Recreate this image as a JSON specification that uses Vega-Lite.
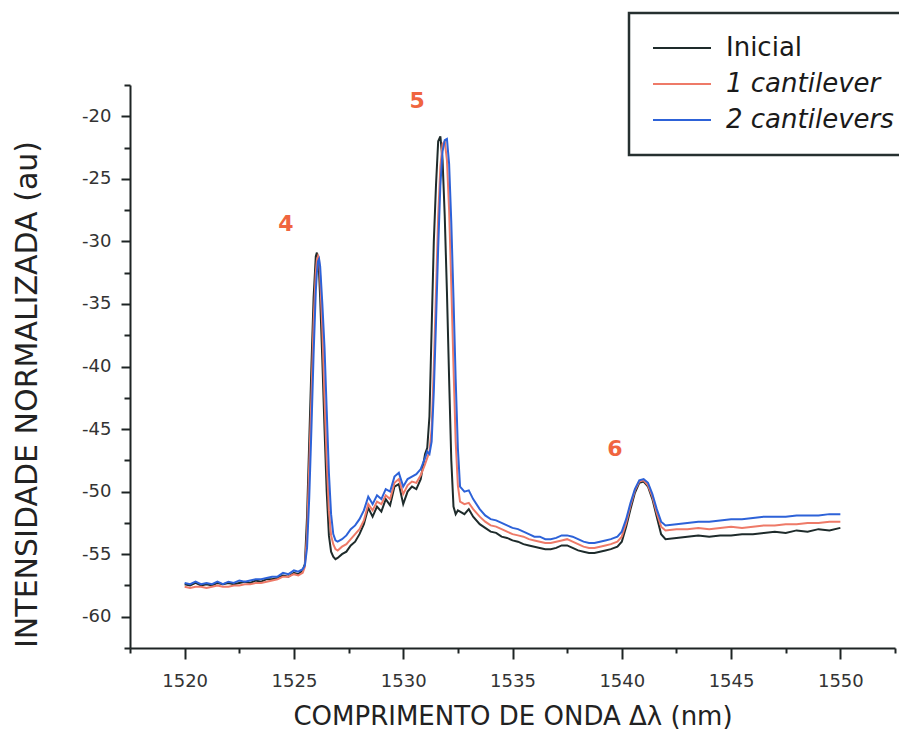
{
  "$schema": "https://vega.github.io/schema/vega-lite/v6.json",
  "autosize": {"type": "none"},
  "width": 765,
  "height": 563,
  "padding": {"left": 130, "top": 85, "right": 4, "bottom": 85},
  "background": "white",
  "config": {
    "view": {"stroke": null},
    "font": "DejaVu Sans",
    "legend": {"strokeWidth": 2.5}
  },
  "datasets": {
    "spectra": [
      {"x": 1520.0, "Inicial": -57.4, "1 cantilever": -57.6, "2 cantilevers": -57.3},
      {"x": 1520.25, "Inicial": -57.5, "1 cantilever": -57.7, "2 cantilevers": -57.4},
      {"x": 1520.5, "Inicial": -57.3, "1 cantilever": -57.6, "2 cantilevers": -57.2},
      {"x": 1520.75, "Inicial": -57.5, "1 cantilever": -57.6, "2 cantilevers": -57.4},
      {"x": 1521.0, "Inicial": -57.4, "1 cantilever": -57.7, "2 cantilevers": -57.3},
      {"x": 1521.25, "Inicial": -57.5, "1 cantilever": -57.6, "2 cantilevers": -57.4},
      {"x": 1521.5, "Inicial": -57.3, "1 cantilever": -57.5, "2 cantilevers": -57.2},
      {"x": 1521.75, "Inicial": -57.4, "1 cantilever": -57.6, "2 cantilevers": -57.4},
      {"x": 1522.0, "Inicial": -57.3, "1 cantilever": -57.6, "2 cantilevers": -57.2},
      {"x": 1522.25, "Inicial": -57.4, "1 cantilever": -57.5, "2 cantilevers": -57.3},
      {"x": 1522.5, "Inicial": -57.3, "1 cantilever": -57.5, "2 cantilevers": -57.1},
      {"x": 1522.75, "Inicial": -57.2, "1 cantilever": -57.4, "2 cantilevers": -57.2},
      {"x": 1523.0, "Inicial": -57.3, "1 cantilever": -57.4, "2 cantilevers": -57.1},
      {"x": 1523.25, "Inicial": -57.1, "1 cantilever": -57.3, "2 cantilevers": -57.0},
      {"x": 1523.5, "Inicial": -57.2, "1 cantilever": -57.3, "2 cantilevers": -57.0},
      {"x": 1523.75, "Inicial": -57.0, "1 cantilever": -57.2, "2 cantilevers": -56.9},
      {"x": 1524.0, "Inicial": -57.0, "1 cantilever": -57.1, "2 cantilevers": -56.8},
      {"x": 1524.25, "Inicial": -56.9, "1 cantilever": -57.0, "2 cantilevers": -56.8},
      {"x": 1524.5, "Inicial": -56.7, "1 cantilever": -56.8, "2 cantilevers": -56.5},
      {"x": 1524.75, "Inicial": -56.8, "1 cantilever": -56.8, "2 cantilevers": -56.6},
      {"x": 1525.0, "Inicial": -56.5, "1 cantilever": -56.6, "2 cantilevers": -56.3},
      {"x": 1525.2, "Inicial": -56.6, "1 cantilever": -56.7, "2 cantilevers": -56.4},
      {"x": 1525.4, "Inicial": -56.3, "1 cantilever": -56.5, "2 cantilevers": -56.2},
      {"x": 1525.5, "Inicial": -55.8, "1 cantilever": -56.0, "2 cantilevers": -55.9},
      {"x": 1525.6, "Inicial": -52.0, "1 cantilever": -53.5, "2 cantilevers": -54.5},
      {"x": 1525.7, "Inicial": -46.0, "1 cantilever": -48.0, "2 cantilevers": -50.5},
      {"x": 1525.8, "Inicial": -40.0, "1 cantilever": -42.5, "2 cantilevers": -45.0},
      {"x": 1525.9, "Inicial": -34.5, "1 cantilever": -36.5, "2 cantilevers": -39.0},
      {"x": 1526.0, "Inicial": -31.2, "1 cantilever": -32.5, "2 cantilevers": -34.0},
      {"x": 1526.05, "Inicial": -30.9, "1 cantilever": -31.5, "2 cantilevers": -32.5},
      {"x": 1526.1, "Inicial": -31.3, "1 cantilever": -31.2, "2 cantilevers": -31.6},
      {"x": 1526.15, "Inicial": -32.5, "1 cantilever": -31.5, "2 cantilevers": -31.4},
      {"x": 1526.2, "Inicial": -34.5, "1 cantilever": -32.8, "2 cantilevers": -32.0},
      {"x": 1526.3, "Inicial": -39.5, "1 cantilever": -37.0, "2 cantilevers": -35.0},
      {"x": 1526.4, "Inicial": -45.0, "1 cantilever": -42.5, "2 cantilevers": -38.5},
      {"x": 1526.5, "Inicial": -50.0, "1 cantilever": -47.5, "2 cantilevers": -43.5},
      {"x": 1526.6, "Inicial": -53.5, "1 cantilever": -51.5, "2 cantilevers": -48.5},
      {"x": 1526.7, "Inicial": -54.8, "1 cantilever": -53.5, "2 cantilevers": -51.8},
      {"x": 1526.8, "Inicial": -55.2, "1 cantilever": -54.2, "2 cantilevers": -53.4},
      {"x": 1526.9, "Inicial": -55.4, "1 cantilever": -54.6, "2 cantilevers": -53.9},
      {"x": 1527.0, "Inicial": -55.3, "1 cantilever": -54.7, "2 cantilevers": -54.0},
      {"x": 1527.2, "Inicial": -55.0, "1 cantilever": -54.4, "2 cantilevers": -53.8},
      {"x": 1527.4, "Inicial": -54.8, "1 cantilever": -54.2, "2 cantilevers": -53.5},
      {"x": 1527.6, "Inicial": -54.3, "1 cantilever": -53.8, "2 cantilevers": -53.0},
      {"x": 1527.8, "Inicial": -54.0, "1 cantilever": -53.4, "2 cantilevers": -52.7},
      {"x": 1528.0, "Inicial": -53.4, "1 cantilever": -53.0, "2 cantilevers": -52.2},
      {"x": 1528.2, "Inicial": -52.6, "1 cantilever": -52.3, "2 cantilevers": -51.5},
      {"x": 1528.4, "Inicial": -51.3, "1 cantilever": -51.0, "2 cantilevers": -50.4},
      {"x": 1528.6, "Inicial": -52.0, "1 cantilever": -51.5, "2 cantilevers": -51.0},
      {"x": 1528.8, "Inicial": -51.2, "1 cantilever": -50.8, "2 cantilevers": -50.3},
      {"x": 1529.0, "Inicial": -51.6, "1 cantilever": -51.0, "2 cantilevers": -50.6},
      {"x": 1529.2, "Inicial": -50.6, "1 cantilever": -50.3, "2 cantilevers": -49.8},
      {"x": 1529.4, "Inicial": -51.1, "1 cantilever": -50.6, "2 cantilevers": -50.0},
      {"x": 1529.6, "Inicial": -49.6, "1 cantilever": -49.3, "2 cantilevers": -48.8},
      {"x": 1529.8, "Inicial": -49.4, "1 cantilever": -49.0, "2 cantilevers": -48.5},
      {"x": 1530.0, "Inicial": -51.0, "1 cantilever": -50.2, "2 cantilevers": -49.6},
      {"x": 1530.2, "Inicial": -50.0, "1 cantilever": -49.5, "2 cantilevers": -49.0},
      {"x": 1530.4, "Inicial": -49.6, "1 cantilever": -49.2, "2 cantilevers": -48.8},
      {"x": 1530.6, "Inicial": -49.8, "1 cantilever": -49.3, "2 cantilevers": -48.6},
      {"x": 1530.8, "Inicial": -49.0, "1 cantilever": -48.7, "2 cantilevers": -48.2},
      {"x": 1531.0, "Inicial": -47.0, "1 cantilever": -47.8, "2 cantilevers": -47.3},
      {"x": 1531.1, "Inicial": -46.5, "1 cantilever": -47.3, "2 cantilevers": -46.8},
      {"x": 1531.2, "Inicial": -44.0, "1 cantilever": -46.8, "2 cantilevers": -47.0},
      {"x": 1531.3, "Inicial": -37.0, "1 cantilever": -45.0, "2 cantilevers": -46.0},
      {"x": 1531.4, "Inicial": -30.0, "1 cantilever": -40.0, "2 cantilevers": -42.0},
      {"x": 1531.5, "Inicial": -25.5, "1 cantilever": -34.0, "2 cantilevers": -36.5},
      {"x": 1531.6, "Inicial": -22.0, "1 cantilever": -28.0, "2 cantilevers": -30.5},
      {"x": 1531.7, "Inicial": -21.6, "1 cantilever": -24.0, "2 cantilevers": -25.5},
      {"x": 1531.8, "Inicial": -23.5, "1 cantilever": -22.2, "2 cantilevers": -22.8},
      {"x": 1531.9, "Inicial": -28.0, "1 cantilever": -22.0, "2 cantilevers": -21.9},
      {"x": 1532.0, "Inicial": -34.0, "1 cantilever": -23.5, "2 cantilevers": -21.8},
      {"x": 1532.1, "Inicial": -41.0, "1 cantilever": -27.5, "2 cantilevers": -23.8},
      {"x": 1532.2, "Inicial": -47.5, "1 cantilever": -33.5, "2 cantilevers": -28.5},
      {"x": 1532.3, "Inicial": -51.2, "1 cantilever": -40.0, "2 cantilevers": -34.5},
      {"x": 1532.4, "Inicial": -51.8, "1 cantilever": -46.0, "2 cantilevers": -41.0},
      {"x": 1532.5, "Inicial": -51.5, "1 cantilever": -49.5, "2 cantilevers": -46.5},
      {"x": 1532.6, "Inicial": -51.6, "1 cantilever": -50.8, "2 cantilevers": -49.6},
      {"x": 1532.8, "Inicial": -51.8, "1 cantilever": -51.0, "2 cantilevers": -50.0},
      {"x": 1533.0, "Inicial": -51.4, "1 cantilever": -50.9, "2 cantilevers": -49.9},
      {"x": 1533.2, "Inicial": -52.0, "1 cantilever": -51.4, "2 cantilevers": -50.6},
      {"x": 1533.5, "Inicial": -52.6, "1 cantilever": -52.0, "2 cantilevers": -51.4},
      {"x": 1533.75, "Inicial": -52.9, "1 cantilever": -52.4, "2 cantilevers": -51.9},
      {"x": 1534.0, "Inicial": -53.2, "1 cantilever": -52.7, "2 cantilevers": -52.2},
      {"x": 1534.25, "Inicial": -53.3, "1 cantilever": -52.8, "2 cantilevers": -52.3},
      {"x": 1534.5, "Inicial": -53.6, "1 cantilever": -53.0, "2 cantilevers": -52.5},
      {"x": 1534.75, "Inicial": -53.7, "1 cantilever": -53.2, "2 cantilevers": -52.7},
      {"x": 1535.0, "Inicial": -53.9, "1 cantilever": -53.4, "2 cantilevers": -52.9},
      {"x": 1535.25, "Inicial": -54.0, "1 cantilever": -53.5, "2 cantilevers": -53.0},
      {"x": 1535.5, "Inicial": -54.2, "1 cantilever": -53.6, "2 cantilevers": -53.2},
      {"x": 1535.75, "Inicial": -54.3, "1 cantilever": -53.8, "2 cantilevers": -53.4},
      {"x": 1536.0, "Inicial": -54.4, "1 cantilever": -53.9, "2 cantilevers": -53.6},
      {"x": 1536.25, "Inicial": -54.5, "1 cantilever": -54.0, "2 cantilevers": -53.6},
      {"x": 1536.5, "Inicial": -54.6, "1 cantilever": -54.1, "2 cantilevers": -53.8},
      {"x": 1536.75, "Inicial": -54.6, "1 cantilever": -54.1, "2 cantilevers": -53.8},
      {"x": 1537.0, "Inicial": -54.5, "1 cantilever": -54.0, "2 cantilevers": -53.7},
      {"x": 1537.25, "Inicial": -54.3, "1 cantilever": -53.9, "2 cantilevers": -53.5},
      {"x": 1537.5, "Inicial": -54.3, "1 cantilever": -53.8, "2 cantilevers": -53.5},
      {"x": 1537.75, "Inicial": -54.5, "1 cantilever": -54.0, "2 cantilevers": -53.6},
      {"x": 1538.0, "Inicial": -54.7, "1 cantilever": -54.2, "2 cantilevers": -53.8},
      {"x": 1538.25, "Inicial": -54.8, "1 cantilever": -54.4, "2 cantilevers": -54.0},
      {"x": 1538.5, "Inicial": -54.9, "1 cantilever": -54.5, "2 cantilevers": -54.1},
      {"x": 1538.75, "Inicial": -54.9, "1 cantilever": -54.5, "2 cantilevers": -54.1},
      {"x": 1539.0, "Inicial": -54.8, "1 cantilever": -54.4, "2 cantilevers": -54.0},
      {"x": 1539.25, "Inicial": -54.7, "1 cantilever": -54.3, "2 cantilevers": -53.9},
      {"x": 1539.5, "Inicial": -54.6, "1 cantilever": -54.2, "2 cantilevers": -53.8},
      {"x": 1539.8, "Inicial": -54.4, "1 cantilever": -54.0, "2 cantilevers": -53.6},
      {"x": 1540.0, "Inicial": -54.0, "1 cantilever": -53.6, "2 cantilevers": -53.2},
      {"x": 1540.2, "Inicial": -52.8, "1 cantilever": -52.5, "2 cantilevers": -52.2},
      {"x": 1540.4, "Inicial": -51.4, "1 cantilever": -51.1, "2 cantilevers": -50.9},
      {"x": 1540.6, "Inicial": -50.1, "1 cantilever": -49.9, "2 cantilevers": -49.8},
      {"x": 1540.8, "Inicial": -49.3, "1 cantilever": -49.2, "2 cantilevers": -49.1},
      {"x": 1541.0, "Inicial": -49.2, "1 cantilever": -49.1, "2 cantilevers": -49.0},
      {"x": 1541.2, "Inicial": -49.6, "1 cantilever": -49.5, "2 cantilevers": -49.3},
      {"x": 1541.4, "Inicial": -50.6, "1 cantilever": -50.4, "2 cantilevers": -50.2},
      {"x": 1541.6, "Inicial": -52.0, "1 cantilever": -51.7, "2 cantilevers": -51.4},
      {"x": 1541.8, "Inicial": -53.4, "1 cantilever": -52.8, "2 cantilevers": -52.4},
      {"x": 1542.0, "Inicial": -53.8, "1 cantilever": -53.1, "2 cantilevers": -52.7},
      {"x": 1542.5, "Inicial": -53.7, "1 cantilever": -53.0, "2 cantilevers": -52.6},
      {"x": 1543.0, "Inicial": -53.6, "1 cantilever": -53.0, "2 cantilevers": -52.5},
      {"x": 1543.5, "Inicial": -53.5, "1 cantilever": -52.9, "2 cantilevers": -52.4},
      {"x": 1544.0, "Inicial": -53.6, "1 cantilever": -53.0, "2 cantilevers": -52.4},
      {"x": 1544.5, "Inicial": -53.5, "1 cantilever": -52.9, "2 cantilevers": -52.3},
      {"x": 1545.0, "Inicial": -53.5, "1 cantilever": -52.8, "2 cantilevers": -52.2},
      {"x": 1545.5, "Inicial": -53.4, "1 cantilever": -52.9, "2 cantilevers": -52.2},
      {"x": 1546.0, "Inicial": -53.4, "1 cantilever": -52.8, "2 cantilevers": -52.1},
      {"x": 1546.5, "Inicial": -53.3, "1 cantilever": -52.7, "2 cantilevers": -52.0},
      {"x": 1547.0, "Inicial": -53.2, "1 cantilever": -52.7, "2 cantilevers": -52.0},
      {"x": 1547.5, "Inicial": -53.3, "1 cantilever": -52.6, "2 cantilevers": -52.0},
      {"x": 1548.0, "Inicial": -53.1, "1 cantilever": -52.6, "2 cantilevers": -51.9},
      {"x": 1548.5, "Inicial": -53.2, "1 cantilever": -52.5, "2 cantilevers": -51.9},
      {"x": 1549.0, "Inicial": -53.0, "1 cantilever": -52.5, "2 cantilevers": -51.9},
      {"x": 1549.5, "Inicial": -53.1, "1 cantilever": -52.4, "2 cantilevers": -51.8},
      {"x": 1550.0, "Inicial": -52.9, "1 cantilever": -52.4, "2 cantilevers": -51.8}
    ],
    "peaks": [
      {"x": 1524.63, "y": -28.6, "label": "4"},
      {"x": 1530.64, "y": -18.8, "label": "5"},
      {"x": 1539.68, "y": -46.6, "label": "6"}
    ]
  },
  "resolve": {"axis": {"y": "independent"}},
  "layer": [
    {
      "data": {"name": "spectra"},
      "transform": [
        {"fold": ["Inicial", "1 cantilever", "2 cantilevers"], "as": ["serie", "y"]}
      ],
      "mark": {"type": "line", "strokeWidth": 2, "clip": true},
      "encoding": {
        "x": {
          "field": "x", "type": "quantitative",
          "scale": {"domain": [1517.5, 1552.5], "nice": false, "zero": false},
          "axis": {
            "title": "COMPRIMENTO DE ONDA Δλ (nm)",
            "values": [1517.5, 1520, 1522.5, 1525, 1527.5, 1530, 1532.5, 1535, 1537.5, 1540, 1542.5, 1545, 1547.5, 1550, 1552.5],
            "labelExpr": "abs(datum.value) % 5 < 0.001 && datum.value >= 1520 && datum.value <= 1550 ? datum.label : ''",
            "format": "d",
            "grid": false,
            "domainColor": "#1e2424", "domainWidth": 2,
            "tickColor": "#1e2424", "tickWidth": 2,
            "tickSize": {"condition": {"test": "abs(datum.value) % 5 < 0.001", "value": 11}, "value": 5},
            "labelFont": "DejaVu Sans", "labelFontSize": 18, "labelColor": "#333", "labelPadding": 13,
            "titleFont": "DejaVu Sans", "titleFontSize": 26, "titleFontWeight": "normal", "titleColor": "#222", "titlePadding": 13
          }
        },
        "y": {
          "field": "y", "type": "quantitative",
          "scale": {"domain": [-62.5, -17.5], "nice": false, "zero": false},
          "axis": {
            "orient": "left",
            "title": "INTENSIDADE NORMALIZADA (au)",
            "values": [-60, -55, -50, -45, -40, -35, -30, -25, -20],
            "format": "d",
            "labelExpr": "replace(datum.label, '−', '-')",
            "grid": false,
            "domainColor": "#1e2424", "domainWidth": 2,
            "tickColor": "#1e2424", "tickWidth": 2,
            "tickSize": 9,
            "labelFont": "DejaVu Sans", "labelFontSize": 18, "labelColor": "#333", "labelPadding": 10,
            "titleFont": "DejaVu Sans", "titleFontSize": 30, "titleFontWeight": "normal", "titleColor": "#222",
            "titleX": -88, "titleY": 309
          }
        },
        "color": {
          "field": "serie", "type": "nominal",
          "scale": {"domain": ["Inicial", "1 cantilever", "2 cantilevers"], "range": ["#1e2b2b", "#ee7a68", "#2d62d8"]},
          "legend": {
            "title": null,
            "orient": "none",
            "legendX": 499,
            "legendY": -72,
            "symbolType": "stroke",
            "symbolSize": 3364,
            "symbolStrokeWidth": 2,
            "symbolOffset": 6,
            "labelFont": "DejaVu Sans",
            "labelFontSize": 26,
            "labelColor": "#1a1a1a",
            "labelOffset": 14,
            "rowPadding": 0,
            "clipHeight": 36,
            "padding": 17,
            "strokeColor": "#263030",
            "fillColor": "white",
            "labelLimit": 400,
            "encode": {
              "labels": {"update": {"fontStyle": {"signal": "datum.label === 'Inicial' ? 'normal' : 'italic'"}}}
            }
          }
        },
        "order": {"field": "x", "type": "quantitative"}
      }
    },
    {
      "data": {"name": "peaks"},
      "mark": {"type": "text", "font": "DejaVu Sans", "fontSize": 22, "fontWeight": "bold", "color": "#f0653f"},
      "encoding": {
        "x": {"field": "x", "type": "quantitative"},
        "y": {
          "field": "y", "type": "quantitative",
          "axis": {
            "orient": "left",
            "title": null,
            "values": [-62.5, -57.5, -52.5, -47.5, -42.5, -37.5, -32.5, -27.5, -22.5, -17.5],
            "labels": false,
            "domain": false,
            "grid": false,
            "tickColor": "#1e2424", "tickWidth": 2,
            "tickSize": 6
          }
        },
        "text": {"field": "label"}
      }
    }
  ]
}
